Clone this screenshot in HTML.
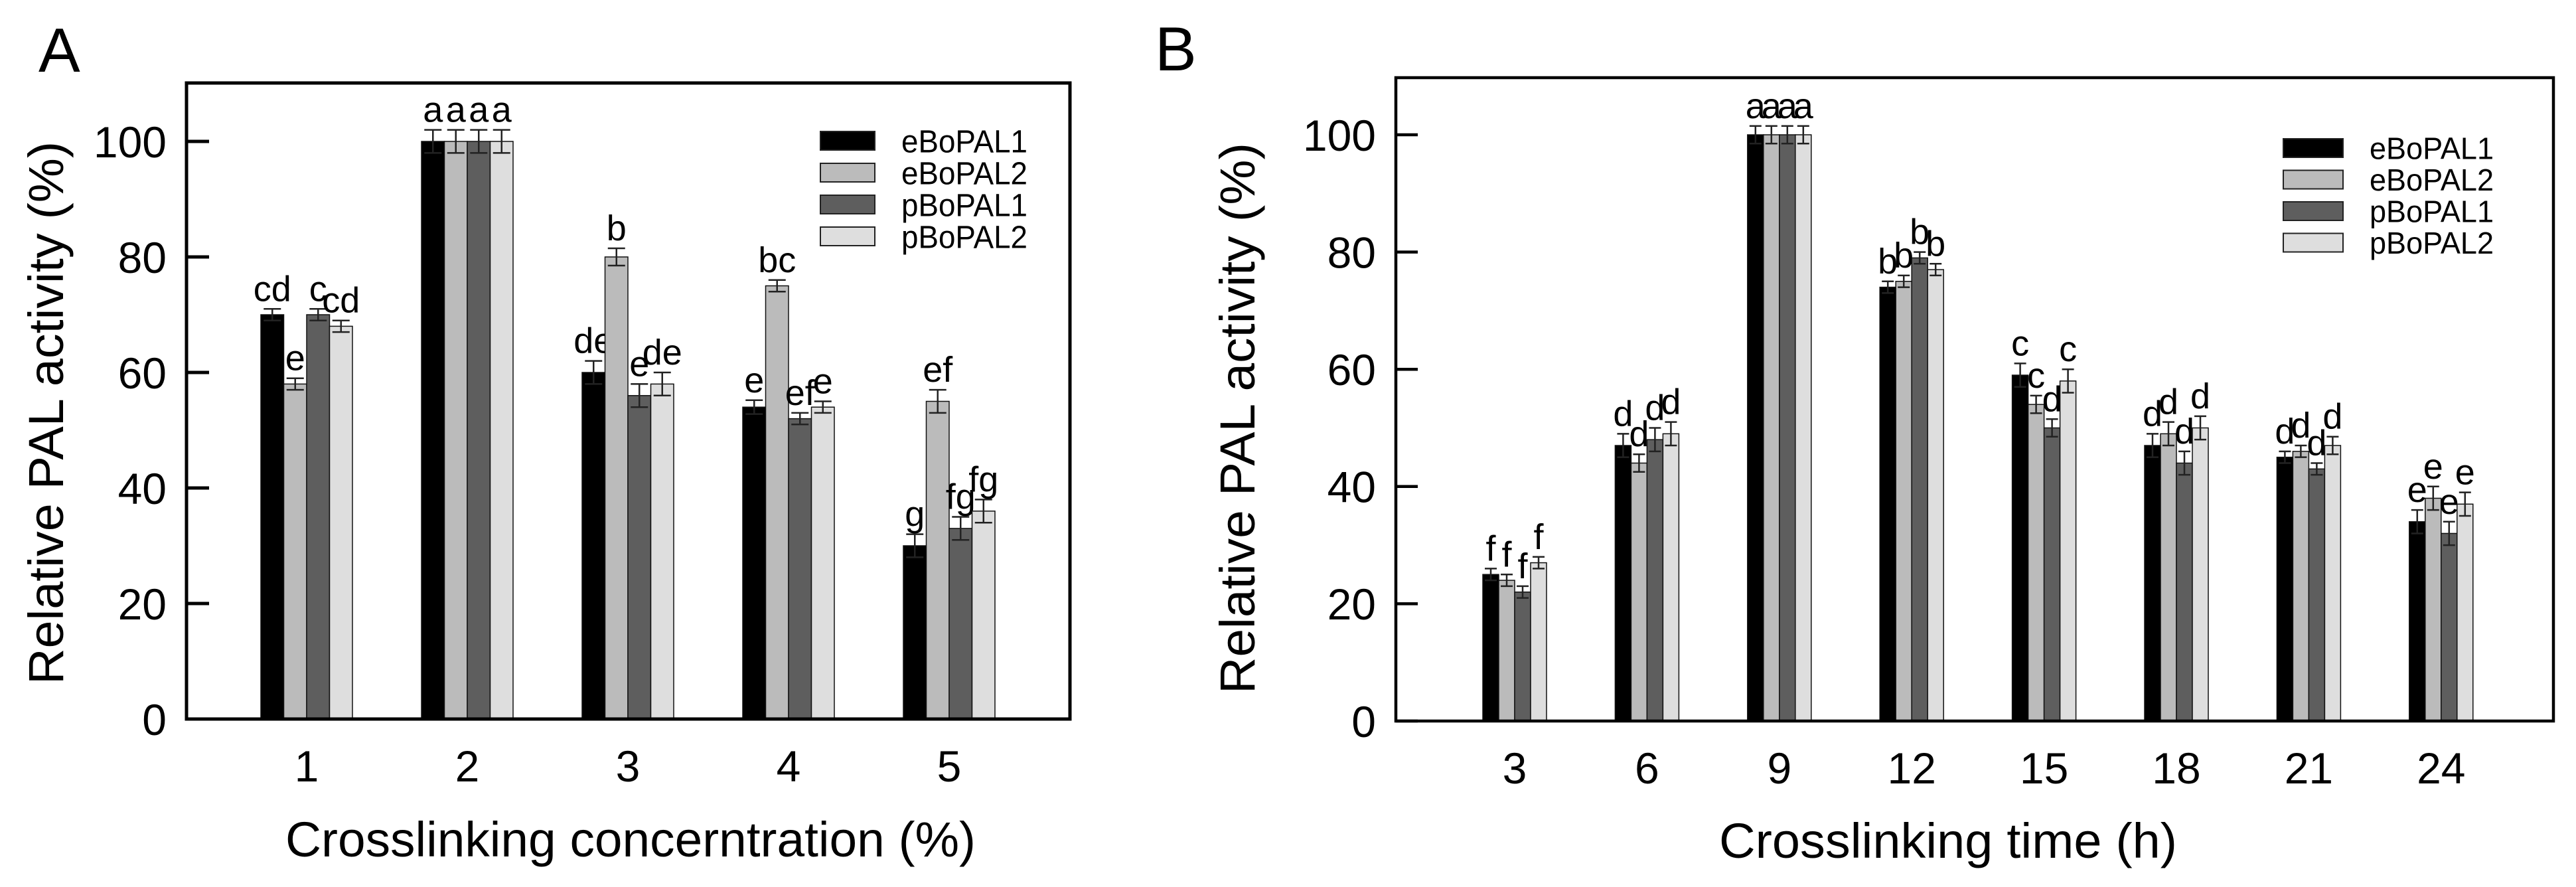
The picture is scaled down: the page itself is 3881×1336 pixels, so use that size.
<!DOCTYPE html>
<html><head><meta charset="utf-8"><style>
html,body{margin:0;padding:0;background:#fff;}
svg{display:block;font-family:"Liberation Sans",Arial,sans-serif;}
</style></head><body>
<svg id="fig" width="3881" height="1336" viewBox="0 0 3881 1336">
<text x="58" y="108" font-size="94">A</text>
<text x="1740" y="106" font-size="94">B</text>
<g id="pa"></g>
<g id="pb"></g>
</svg>
<script>
const seriesNames = ["eBoPAL1","eBoPAL2","pBoPAL1","pBoPAL2"];
const seriesFill = ["#000000","#bbbbbb","#5e5e5e","#dedede"];
const yTicks = [0,20,40,60,80,100];

const catsA = ["1","2","3","4","5"];
const a_eBoPAL1 = [70,100,60,54,30];
const a_eBoPAL2 = [58,100,80,75,55];
const a_pBoPAL1 = [70,100,56,52,33];
const a_pBoPAL2 = [68,100,58,54,36];
const a_err1 = [1,2,2,1.2,2];
const a_err2 = [1,2,1.5,1,2];
const a_err3 = [1,2,2,1,2];
const a_err4 = [1,2,2,1,2];
const a_let1 = ["cd","a","de","e","g"];
const a_let2 = ["e","a","b","bc","ef"];
const a_let3 = ["c","a","e","ef","fg"];
const a_let4 = ["cd","a","de","e","fg"];

const catsB = ["3","6","9","12","15","18","21","24"];
const b_eBoPAL1 = [25,47,100,74,59,47,45,34];
const b_eBoPAL2 = [24,44,100,75,54,49,46,38];
const b_pBoPAL1 = [22,48,100,79,50,44,43,32];
const b_pBoPAL2 = [27,49,100,77,58,50,47,37];
const b_err1 = [1,2,1.5,1,2,2,1,2];
const b_err2 = [1,1.5,1.5,1,1.5,2,1,2];
const b_err3 = [1,2,1.5,1,1.5,2,1,2];
const b_err4 = [1,2,1.5,1,2,2,1.5,2];
const b_let1 = ["f","d","a","b","c","d","d","e"];
const b_let2 = ["f","d","a","b","c","d","d","e"];
const b_let3 = ["f","d","a","b","d","d","d","e"];
const b_let4 = ["f","d","a","b","c","d","d","e"];

const NS="http://www.w3.org/2000/svg";
function mk(parent,tag,attrs,text){const e=document.createElementNS(NS,tag);for(const k in attrs)e.setAttribute(k,attrs[k]);if(text!==undefined)e.textContent=text;parent.appendChild(e);return e;}

function drawPanel(g,cfg){
  const {L,R,T,B,y100,cats,c0,step,bw,vals,errs,lets,tickFs,letFs,lw,capW,xTitle,xTitleX,xTitleY,xTitleLen,yTitleX,yTitleY,yTitleLen,legX,legY,legDy,legFs,legLen,boxW,boxH,txtX,tickLen} = cfg;
  const yS = v => B - (B - y100) * v / 100;
  const xS = i => c0 + step * i;
  for (let s=0;s<4;s++){
    for (let i=0;i<cats.length;i++){
      const x = xS(i) - 2*bw + s*bw;
      const v = vals[s][i];
      const r = mk(g,'rect',{x:x,y:yS(v),width:bw,height:B-yS(v),fill:seriesFill[s],stroke:'#111','stroke-width':1.5});
      
      
      const cx = x + bw/2, e = errs[s][i];
      const eb = mk(g,'path',{d:`M${cx-capW/2},${yS(v+e)}H${cx+capW/2}M${cx},${yS(v+e)}V${yS(v-e)}M${cx-capW/2},${yS(v-e)}H${cx+capW/2}`,stroke:'#222','stroke-width':2.5,fill:'none'});
      
      
      const t = mk(g,'text',{x:cx,y:yS(v+e)-12,'font-size':letFs,'text-anchor':'middle'},lets[s][i]);
      
      
    }
  }
  const f = mk(g,'rect',{x:L,y:T,width:R-L,height:B-T,fill:'none',stroke:'#000','stroke-width':lw});
  
  
  for (const t of yTicks){
    const tk = mk(g,'line',{x1:L,x2:L+tickLen,y1:yS(t),y2:yS(t),stroke:'#000','stroke-width':lw});
    
    
    const tl = mk(g,'text',{x:L-30,y:yS(t)+tickFs*0.36,'font-size':tickFs,'text-anchor':'end'},String(t));
    
    
  }
  for (let i=0;i<cats.length;i++){
    const xl = mk(g,'text',{x:xS(i),y:B+94,'font-size':tickFs,'text-anchor':'middle'},cats[i]);
    
    
  }
  const xt = mk(g,'text',{x:xTitleX-xTitleLen/2,y:xTitleY,'font-size':74,textLength:xTitleLen,lengthAdjust:'spacingAndGlyphs'},xTitle);
  
  
  const yt = mk(g,'text',{x:-yTitleLen/2,y:0,'font-size':74,textLength:yTitleLen,lengthAdjust:'spacingAndGlyphs',transform:`translate(${yTitleX},${yTitleY}) rotate(-90)`},'Relative PAL activity (%)');
  
  
  for (let s=0;s<4;s++){
    const yy = legY + s*legDy;
    const lb = mk(g,'rect',{x:legX,y:yy-boxH/2,width:boxW,height:boxH,fill:seriesFill[s],stroke:'#222','stroke-width':2});
    
    
    const lt = mk(g,'text',{x:txtX,y:yy+legFs*0.36,'font-size':legFs,textLength:legLen,lengthAdjust:'spacingAndGlyphs'},seriesNames[s]);
    
    
  }
}

drawPanel(document.getElementById('pa'),{
  L:281,R:1612,T:125,B:1083,y100:213,cats:catsA,c0:462,step:242,bw:34.5,
  vals:[a_eBoPAL1,a_eBoPAL2,a_pBoPAL1,a_pBoPAL2],errs:[a_err1,a_err2,a_err3,a_err4],
  lets:[a_let1,a_let2,a_let3,a_let4],tickFs:66,letFs:54,lw:5,capW:26,
  xTitle:'Crosslinking concerntration (%)',xTitleX:950,xTitleY:1290,xTitleLen:1040,
  yTitleX:95,yTitleY:622,yTitleLen:818,
  legX:1236,legY:212,legDy:48,legFs:48,legLen:190,boxW:82,boxH:28,txtX:1358,tickLen:34
});
drawPanel(document.getElementById('pb'),{
  L:2103,R:3847,T:117,B:1086,y100:203,cats:catsB,c0:2282,step:199.4,bw:24,
  vals:[b_eBoPAL1,b_eBoPAL2,b_pBoPAL1,b_pBoPAL2],errs:[b_err1,b_err2,b_err3,b_err4],
  lets:[b_let1,b_let2,b_let3,b_let4],tickFs:66,letFs:54,lw:4.5,capW:18,
  xTitle:'Crosslinking time (h)',xTitleX:2935,xTitleY:1292,xTitleLen:690,
  yTitleX:1890,yTitleY:630,yTitleLen:830,
  legX:3440,legY:223,legDy:47.5,legFs:46,legLen:187,boxW:90,boxH:28,txtX:3570,tickLen:33
});
</script>
</body></html>
